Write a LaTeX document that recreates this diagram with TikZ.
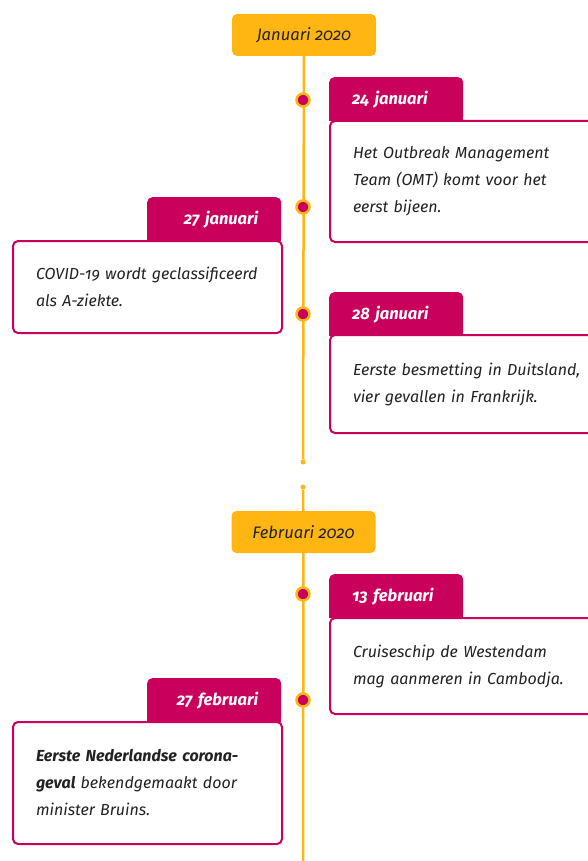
\documentclass[tikz,border=0pt]{standalone}
\usepackage{fontspec}
\setmainfont{Fira Sans}[Numbers=OldStyle]
\usepackage{tikz}

\definecolor{robijn}{HTML}{CA005D}
\definecolor{geel}{HTML}{FFB612}
\definecolor{tekst}{HTML}{222222}

\begin{document}
\begin{tikzpicture}[x=1pt, y=-1pt,
	maand/.style={fill=geel, rounded corners=5pt, minimum width=144pt, minimum height=42pt, text=tekst, font=\itshape\fontsize{16.6}{20}\selectfont},
	tabr/.style={fill=robijn, rounded corners=5pt, anchor=north west, minimum width=134pt, minimum height=44pt, inner xsep=23pt, text width=88pt, align=left, text=white, font=\bfseries\itshape\fontsize{16.5}{20}\selectfont},
	tabl/.style={tabr, align=right},
	kader/.style={draw=robijn, line width=2pt, fill=white, rounded corners=5pt, anchor=north west, inner xsep=23pt, align=left, text=tekst, font=\itshape\fontsize{16}{27}\selectfont},
	stip/.style={circle, fill=robijn, draw=geel, line width=2.5pt, minimum size=13pt, inner sep=0pt},
	eind/.style={circle, fill=geel, minimum size=5pt, inner sep=0pt},
	lijn/.style={geel, line width=2.5pt}]
				\useasboundingbox (0, 0) rectangle (588, 861);
				
				% maanden
				\path (304, 35) node[maand] (m1) {Januari 2020}
				(303.5, 532) node[maand] (m2) {Februari 2020}
				(303, 462) node[eind] (e1) {}
				(303, 487) node[eind] (e2) {}
				(303, 861) coordinate (e3);
				
				\draw[lijn] (m1) -- (e1);
				\draw[lijn] (e2) -- (m2) -- (e3);
				
				% gebeurtenissen
				\path (303, 100) node[stip] (s1) {}
				(303, 207) node[stip] (s2) {}
				(303, 314) node[stip] (s3) {}
				(303, 594) node[stip] (s4) {}
				(303, 700) node[stip] (s5) {};
				
				\path (329, 77) node[tabr] (t1) {24 januari}
				(147, 197) node[tabl] (t2) {27 januari}
				(329, 292) node[tabr] (t3) {28 januari}
				(329, 574) node[tabr] (t4) {13 februari}
				(147, 678) node[tabl] (t5) {27 februari};
				\foreach \t in {t1, t2, t3, t4, t5}
					\fill[robijn] ([yshift=6pt]\t.south west) rectangle (\t.south east);
				
				\path (329, 120) node[kader, text width=240pt, minimum height=121pt] (k1) {Het Outbreak Management\\Team (OMT) komt voor het\\eerst bijeen.}
				(12, 240) node[kader, text width=223pt, minimum height=92pt] (k2) {COVID-19 wordt geclassificeerd\\als A-ziekte.}
				(329, 334) node[kader, text width=240pt, minimum height=98pt] (k3) {Eerste besmetting in Duitsland,\\vier gevallen in Frankrijk.}
				(329, 617) node[kader, text width=240pt, minimum height=96pt] (k4) {Cruiseschip de Westendam\\mag aanmeren in Cambodja.}
				(12, 721) node[kader, text width=223pt, minimum height=122pt] (k5) {\textbf{Eerste Nederlandse corona-}\\\textbf{geval} bekendgemaakt door\\minister Bruins.};
			\end{tikzpicture}
\end{document}
